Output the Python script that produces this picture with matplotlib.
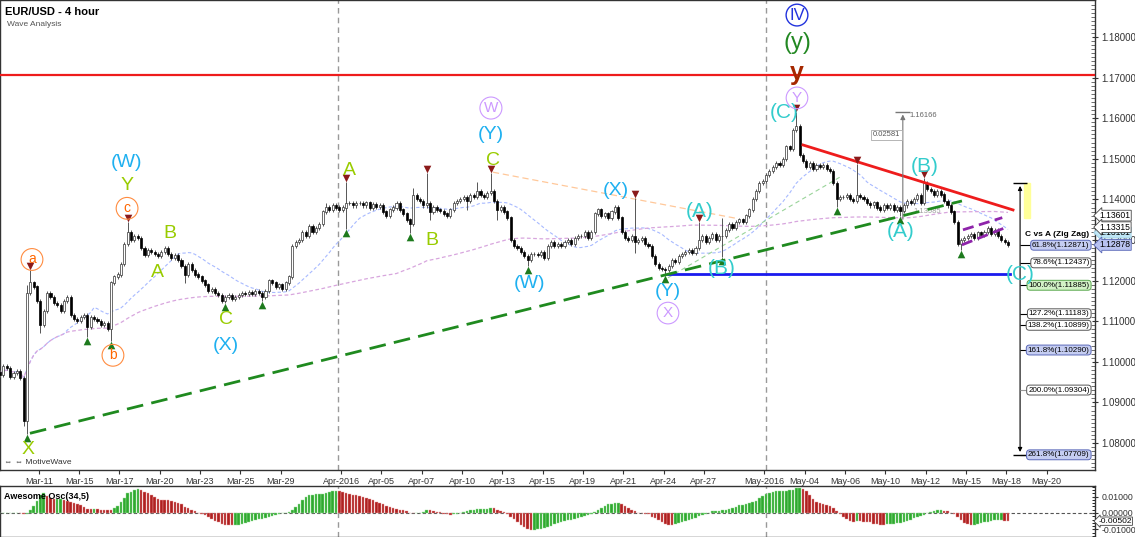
import numpy as np
import pandas as pd
import matplotlib
matplotlib.use('Agg')
import matplotlib.pyplot as plt
from matplotlib.patches import Rectangle
from matplotlib.ticker import MultipleLocator, FixedLocator
from matplotlib.transforms import offset_copy

plt.rcParams['font.family'] = ['Liberation Sans', 'DejaVu Sans']

# EUR/USD 4 hour closes, six bars per trading day (Mar 09 .. May 18 2016), in 1/10000
closes = [
    10975, 10968, 10990, 10985, 10962, 10972,   # Mar 09
    10978, 10960, 10855, 11170, 11195, 11185,   # Mar 10
    11150, 11090, 11125, 11170, 11160, 11145,   # Mar 11
    11140, 11125, 11150, 11160, 11115, 11105,   # Mar 14
    11100, 11110, 11115, 11085, 11110, 11105,   # Mar 15
    11100, 11090, 11095, 11080, 11195, 11210,   # Mar 16
    11215, 11240, 11290, 11320, 11300, 11310,   # Mar 17
    11305, 11280, 11262, 11275, 11270, 11265,   # Mar 18
    11260, 11270, 11280, 11265, 11255, 11262,   # Mar 21
    11250, 11235, 11215, 11240, 11225, 11215,   # Mar 22
    11210, 11200, 11190, 11175, 11180, 11170,   # Mar 23
    11165, 11150, 11160, 11165, 11155, 11160,   # Mar 24
    11165, 11170, 11168, 11172, 11168, 11175,   # Mar 25
    11170, 11160, 11175, 11200, 11195, 11185,   # Mar 28
    11190, 11180, 11195, 11210, 11285, 11295,   # Mar 29
    11300, 11320, 11310, 11335, 11320, 11330,   # Mar 30
    11340, 11370, 11380, 11375, 11385, 11380,   # Mar 31
    11375, 11380, 11390, 11390, 11385, 11390,   # Apr 01
    11390, 11385, 11392, 11380, 11388, 11382,   # Apr 04
    11385, 11370, 11360, 11375, 11380, 11390,   # Apr 05
    11375, 11365, 11350, 11340, 11410, 11400,   # Apr 06
    11395, 11385, 11390, 11370, 11380, 11375,   # Apr 07
    11372, 11365, 11360, 11375, 11390, 11395,   # Apr 08
    11400, 11405, 11395, 11410, 11405, 11420,   # Apr 11
    11410, 11405, 11415, 11420, 11395, 11375,   # Apr 12
    11380, 11370, 11355, 11300, 11285, 11280,   # Apr 13
    11270, 11260, 11250, 11265, 11265, 11262,   # Apr 14
    11270, 11255, 11285, 11295, 11285, 11290,   # Apr 15
    11285, 11295, 11300, 11290, 11305, 11310,   # Apr 18
    11310, 11320, 11305, 11320, 11365, 11375,   # Apr 19
    11360, 11365, 11355, 11370, 11380, 11355,   # Apr 20
    11320, 11305, 11300, 11310, 11295, 11300,   # Apr 21
    11305, 11290, 11285, 11260, 11240, 11230,   # Apr 22
    11228, 11225, 11235, 11250, 11245, 11260,   # Apr 25
    11265, 11270, 11275, 11268, 11280, 11300,   # Apr 26
    11310, 11295, 11305, 11315, 11300, 11310,   # Apr 27
    11310, 11325, 11340, 11330, 11345, 11350,   # Apr 28
    11345, 11360, 11375, 11400, 11420, 11440,   # Apr 29
    11445, 11460, 11470, 11480, 11490, 11485,   # May 02
    11500, 11530, 11525, 11570, 11580, 11510,   # May 03
    11495, 11480, 11490, 11475, 11485, 11480,   # May 04
    11485, 11475, 11470, 11440, 11400, 11405,   # May 05
    11405, 11410, 11400, 11395, 11410, 11405,   # May 06
    11400, 11390, 11385, 11392, 11380, 11375,   # May 09
    11385, 11378, 11385, 11375, 11380, 11372,   # May 10
    11385, 11395, 11390, 11400, 11410, 11390,   # May 11
    11440, 11425, 11420, 11410, 11420, 11412,   # May 12
    11395, 11385, 11370, 11345, 11290, 11300,   # May 13
    11305, 11310, 11315, 11305, 11318, 11312,   # May 16
    11320, 11330, 11315, 11325, 11310, 11300,   # May 17
    11295, 11288,                               # May 18
]
# bars with long wicks: bar -> high / low
spike_high = {9: 11190, 10: 11226, 39: 11345, 98: 11392, 104: 11443, 124: 11428,
              128: 11465, 143: 11443, 147: 11465, 190: 11403, 209: 11345,
              216: 11355, 238: 11616, 256: 11488, 276: 11452}
spike_low = {8: 10842, 9: 10822, 13: 11070, 27: 11062, 34: 11052, 56: 11194,
             68: 11144, 79: 11150, 104: 11328, 123: 11318, 129: 11350, 140: 11374,
             149: 11350, 158: 11236, 190: 11268, 199: 11214, 216: 11258,
             239: 11505, 250: 11382, 269: 11360, 287: 11275}

low_pivots = [9, 27, 34, 68, 79, 104, 123, 158, 199, 216, 250, 269, 287]
high_pivots = [10, 39, 104, 128, 147, 190, 209, 238, 256, 276]

tick_labels = ['Mar-11', 'Mar-15', 'Mar-17', 'Mar-20', 'Mar-23', 'Mar-25', 'Mar-29',
               'Apr-2016', 'Apr-05', 'Apr-07', 'Apr-10', 'Apr-13', 'Apr-15', 'Apr-19',
               'Apr-21', 'Apr-24', 'Apr-27', 'May-2016', 'May-04', 'May-06', 'May-10',
               'May-12', 'May-15', 'May-18', 'May-20']
tick_days = [2, 4, 6, 8, 10, 12, 14, 17, 19, 21, 23, 25, 27, 29, 31, 33, 35, 38, 40,
             42, 44, 46, 48, 50, 52]
month_lines = [101.6, 229.0]

fib_pct = ['61.8%', '78.6%', '100.0%', '127.2%', '138.2%', '161.8%', '200.0%', '261.8%']
fib_price = [1.12871, 1.12437, 1.11885, 1.11183, 1.10899, 1.10290, 1.09304, 1.07709]
fib_kind = ['blue', 'white', 'green', 'white', 'white', 'blue', 'white', 'blue']

# analyst drawings (bar, price)
resistance = 1.1706
support = [(199.8, 1.1216), (301.5, 1.1216)]
red_trend = [(240.0, 1.1534), (302.5, 1.1374)]
thin_green = [(199.8, 1.1207), (251.0, 1.1455)]
orange_line = [(147.7, 1.1467), (219.7, 1.1354)]
channel_up = [(287.6, 1.1325), (299.3, 1.1355)]
channel_dn = [(287.3, 1.1288), (300.7, 1.1332)]

# ---- data prep
c = np.array(closes) / 1e4
o = np.r_[c[0], c[:-1]]
hi = np.maximum(o, c) + 0.0005
lo = np.minimum(o, c) - 0.0005
for k, v in spike_high.items():
    hi[k] = v / 1e4
for k, v in spike_low.items():
    lo[k] = v / 1e4
x = np.arange(len(c))
s = pd.Series(c)
ma_fast = s.rolling(21, min_periods=1).mean()
ma_slow = s.rolling(120, min_periods=1).mean()
med = pd.Series((hi + lo) / 2)
ao = (med.rolling(5, min_periods=1).mean() - med.rolling(34, min_periods=1).mean()).values
ao_up = np.r_[True, ao[1:] >= ao[:-1]]

fig = plt.figure(figsize=(11.35, 5.37), dpi=100)
W = 1095 / 1135
ax = fig.add_axes([0, 67 / 537, W, 470 / 537])
ax2 = fig.add_axes([0, 0, W, 51 / 537])

ax.set_xlim(0.98, 326.9)
ax.set_ylim(1.07335, 1.18911)
ax2.set_xlim(0.98, 326.9)
ax2.set_ylim(-0.0147, 0.0165)

# month separators
for m in month_lines:
    ax.axvline(m, color='#999999', lw=1, ls=(0, (4, 3)), zorder=1)
    ax2.axvline(m, color='#999999', lw=1, ls=(0, (4, 3)), zorder=1)

# moving averages
ax.plot(x, ma_fast, color='#a8baff', lw=0.8, ls=(0, (3, 2)), zorder=2)
ax.plot(x, ma_slow, color='#d8a6de', lw=0.9, ls=(0, (3, 2)), zorder=2)

# candles
up = c >= o
ax.vlines(x, lo, hi, color='#555555', lw=0.7, zorder=3)
ax.bar(x[up], (c - o)[up] + 0.00005, bottom=o[up], width=0.62, color='white',
       edgecolor='#333333', lw=0.5, zorder=4)
ax.bar(x[~up], (o - c)[~up] + 0.00005, bottom=c[~up], width=0.62, color='black',
       edgecolor='black', lw=0.5, zorder=4)

# pivot triangles
tr_dn = offset_copy(ax.transData, fig=fig, y=-2.8, units='points')
tr_up = offset_copy(ax.transData, fig=fig, y=2.8, units='points')
ax.scatter(low_pivots, lo[low_pivots], marker='^', s=30, color='#1d7a1d',
           transform=tr_dn, zorder=6, linewidths=0)
ax.scatter(high_pivots, hi[high_pivots], marker='v', s=30, color='#8b1a1a',
           transform=tr_up, zorder=6, linewidths=0)

# analyst lines
ax.axhline(resistance, color='#ee1c1c', lw=1.6, zorder=5)
ax.plot(*zip(*support), color='#1a1aee', lw=2, zorder=5)
gx = np.array([9.9, 287.3])
slope = (lo[199] - lo[9]) / (199 - 9)
ax.plot(gx, lo[9] + slope * (gx - 9), color='#1f8a1f', lw=2, ls=(0, (6, 3)), zorder=5)
ax.plot(*zip(*red_trend), color='#ee1c1c', lw=2, zorder=5)
ax.plot(*zip(*thin_green), color='#9ad49a', lw=0.8, ls=(0, (4, 3)), zorder=2)
ax.plot(*zip(*orange_line), color='#ffc89a', lw=0.9, ls=(0, (5, 3)), zorder=2)
ax.plot(*zip(*channel_up), color='#8e24aa', lw=2, ls=(0, (4, 2)), zorder=5)
ax.plot(*zip(*channel_dn), color='#8e24aa', lw=2, ls=(0, (4, 2)), zorder=5)

# measure tool
ax.annotate('', xy=(269.7, 1.1616), xytext=(269.7, 1.1344),
            arrowprops=dict(arrowstyle='-|>', color='#777777', lw=0.8, mutation_scale=7), zorder=6)
ax.hlines(1.1616, 267.5, 271.9, color='#777777', lw=1)
ax.text(271.8, 1.1606, '1.16166', fontsize=5.5, color='#666666', va='center')
ax.text(264.8, 1.1559, '0.02581', fontsize=5.5, color='#555555', ha='center', va='center',
        bbox=dict(boxstyle='square,pad=0.2', fc='white', ec='#aaaaaa', lw=0.6), zorder=7)
ax.text(273.0, 1.1370, '1.13585', fontsize=5.5, color='#888888', va='center', alpha=0.8)

# wave labels
styles = {
    'yg': dict(color='#99cc00', fontsize=14),
    'cyan': dict(color='#1eb0f0', fontsize=14),
    'teal': dict(color='#33cccc', fontsize=15),
    'org': dict(color='#ff6600', fontsize=10,
                bbox=dict(boxstyle='circle,pad=0.28', fc='none', ec='#ff8c40', lw=0.8)),
    'lav': dict(color='#cc99ff', fontsize=11,
                bbox=dict(boxstyle='circle,pad=0.25', fc='none', ec='#cc99ff', lw=0.8)),
    'blu': dict(color='#2233dd', fontsize=12,
                bbox=dict(boxstyle='circle,pad=0.18', fc='none', ec='#2233dd', lw=1)),
    'dred': dict(color='#a52800', fontsize=18, fontweight='bold'),
    'dgreen': dict(color='#228822', fontsize=17),
}
wave_labels = [
    ('a', 10.5, 1.1252, 'org'), ('b', 34.6, 1.1016, 'org'), ('c', 38.8, 1.1378, 'org'),
    ('Y', 38.8, 1.1433, 'yg'), ('(W)', 38.5, 1.1492, 'cyan'), ('X', 9.3, 1.0783, 'yg'),
    ('A', 47.7, 1.1221, 'yg'), ('B', 51.6, 1.1317, 'yg'), ('C', 68.2, 1.1103, 'yg'),
    ('(X)', 68.2, 1.1041, 'cyan'), ('A', 104.9, 1.1470, 'yg'), ('B', 129.6, 1.1298, 'yg'),
    ('C', 147.7, 1.1497, 'yg'), ('(Y)', 147.1, 1.1559, 'cyan'), ('W', 147.1, 1.1625, 'lav'),
    ('(W)', 158.7, 1.1194, 'cyan'), ('(X)', 184.3, 1.1423, 'cyan'),
    ('(A)', 209.3, 1.1371, 'teal'), ('(B)', 215.9, 1.1231, 'teal'),
    ('(Y)', 199.8, 1.1174, 'cyan'), ('X', 199.8, 1.1120, 'lav'),
    ('(C)', 234.3, 1.1613, 'teal'), ('Y', 238.2, 1.1650, 'lav'),
    ('y', 238.2, 1.1711, 'dred'), ('(y)', 238.2, 1.1785, 'dgreen'),
    ('IV', 238.2, 1.1854, 'blu'), ('(A)', 269.1, 1.1320, 'teal'),
    ('(B)', 276.3, 1.1480, 'teal'), ('(C)', 304.6, 1.1216, 'teal'),
]
for t, bx, py, st in wave_labels:
    ax.text(bx, py, t, ha='center', va='center', zorder=8, **styles[st])

# fibonacci projection
ax.add_patch(Rectangle((305.7, 1.1354), 1.8, 0.0086, color='#ffff99', zorder=2))
ax.annotate('', xy=(304.6, 1.1440), xytext=(304.6, 1.0771),
            arrowprops=dict(arrowstyle='<|-|>', color='black', lw=0.8, mutation_scale=6), zorder=6)
ax.hlines([1.1440, 1.0771], 302.4, 306.8, color='black', lw=1, zorder=6)
fib_colors = {'blue': ('#c5cdf2', '#5a68b8'), 'white': ('white', '#555555'),
              'green': ('#d2f2c6', '#5aa84e')}
for pct, pr, kind in zip(fib_pct, fib_price, fib_kind):
    ax.hlines(pr, 304.6, 309.8, color='#999999' if pct == '200.0%' else 'black', lw=0.8, zorder=6)
    fc, ec = fib_colors[kind]
    ax.text(325.3, pr, f'{pct}({pr:.5f})', fontsize=5.8, ha='right', va='center', zorder=7,
            bbox=dict(boxstyle='round,pad=0.18,rounding_size=0.4', fc=fc, ec=ec, lw=0.7))
ax.text(325.3, 1.1313, 'C vs A (Zig Zag)', fontsize=6, fontweight='bold', ha='right', va='center')

# titles
ax.text(0.005, 0.985, 'EUR/USD - 4 hour', transform=ax.transAxes, fontsize=8,
        fontweight='bold', va='top')
ax.text(0.006, 0.955, 'Wave Analysis', transform=ax.transAxes, fontsize=6, color='#555555', va='top')
ax.text(0.004, 0.012, '⇔ ⇔ MotiveWave', transform=ax.transAxes, fontsize=6, color='#333333')

# axes styling
for a in (ax, ax2):
    for sp in a.spines.values():
        sp.set_color('#333333')
        sp.set_linewidth(1)
    a.yaxis.tick_right()
    a.tick_params(axis='y', labelsize=7, direction='inout', length=5, pad=2, colors='#333333')
ax2.tick_params(axis='y', labelsize=6.3)

ax.xaxis.set_major_locator(FixedLocator([d * 6 + 0.5 for d in tick_days]))
ax.set_xticklabels(tick_labels)
ax.tick_params(axis='x', labelsize=6.5, direction='out', length=3, pad=2, colors='#333333')
ax.set_yticks([1.08, 1.09, 1.10, 1.11, 1.12, 1.13, 1.14, 1.15, 1.16, 1.17, 1.18])
ax.yaxis.set_major_formatter(plt.FormatStrFormatter('%.5f'))
ax.yaxis.set_minor_locator(MultipleLocator(0.001))
ax.tick_params(axis='y', which='minor', direction='in', length=3, color='#555555')

# price markers on the right axis
ytr = ax.get_yaxis_transform()
for val, fc, ec, z in [(1.13181, '#bfe6f5', '#9fcfe6', 9), (1.13601, 'white', '#444444', 10),
                       (1.13315, 'white', '#444444', 11), (1.12878, '#b8c2f0', '#5a68b8', 12)]:
    ax.text(1.004, val, f'{val:.5f}', transform=ytr, fontsize=6.2, va='center', ha='left',
            zorder=z, clip_on=False,
            bbox=dict(boxstyle='larrow,pad=0.1', fc=fc, ec=ec, lw=0.6))

# awesome oscillator
ax2.bar(x[ao_up], ao[ao_up], width=0.75, color='#2faa2f', edgecolor='#9ee09e', lw=0.3, zorder=3)
ax2.bar(x[~ao_up], ao[~ao_up], width=0.75, color='#b02020', edgecolor='#e8a0a0', lw=0.3, zorder=3)
ax2.axhline(0, color='#555555', lw=0.8, ls=(0, (3, 2)), zorder=2)
ax2.set_xticks([])
ax2.set_yticks([-0.01, 0.0, 0.01])
ax2.yaxis.set_major_formatter(plt.FormatStrFormatter('%.5f'))
ax2.yaxis.set_minor_locator(MultipleLocator(0.002))
ax2.tick_params(axis='y', which='minor', direction='in', length=2)
ax2.text(0.004, 0.88, 'Awesome Osc(34,5)', transform=ax2.transAxes, fontsize=6.5,
         fontweight='bold', va='top', zorder=5)
ax2.text(1.003, ao[-1], f'{ao[-1]:.5f}', transform=ax2.get_yaxis_transform(), fontsize=6,
         va='center', ha='left', clip_on=False, zorder=6,
         bbox=dict(boxstyle='larrow,pad=0.08', fc='white', ec='#444444', lw=0.6))

fig.savefig('out.png', dpi=100)
